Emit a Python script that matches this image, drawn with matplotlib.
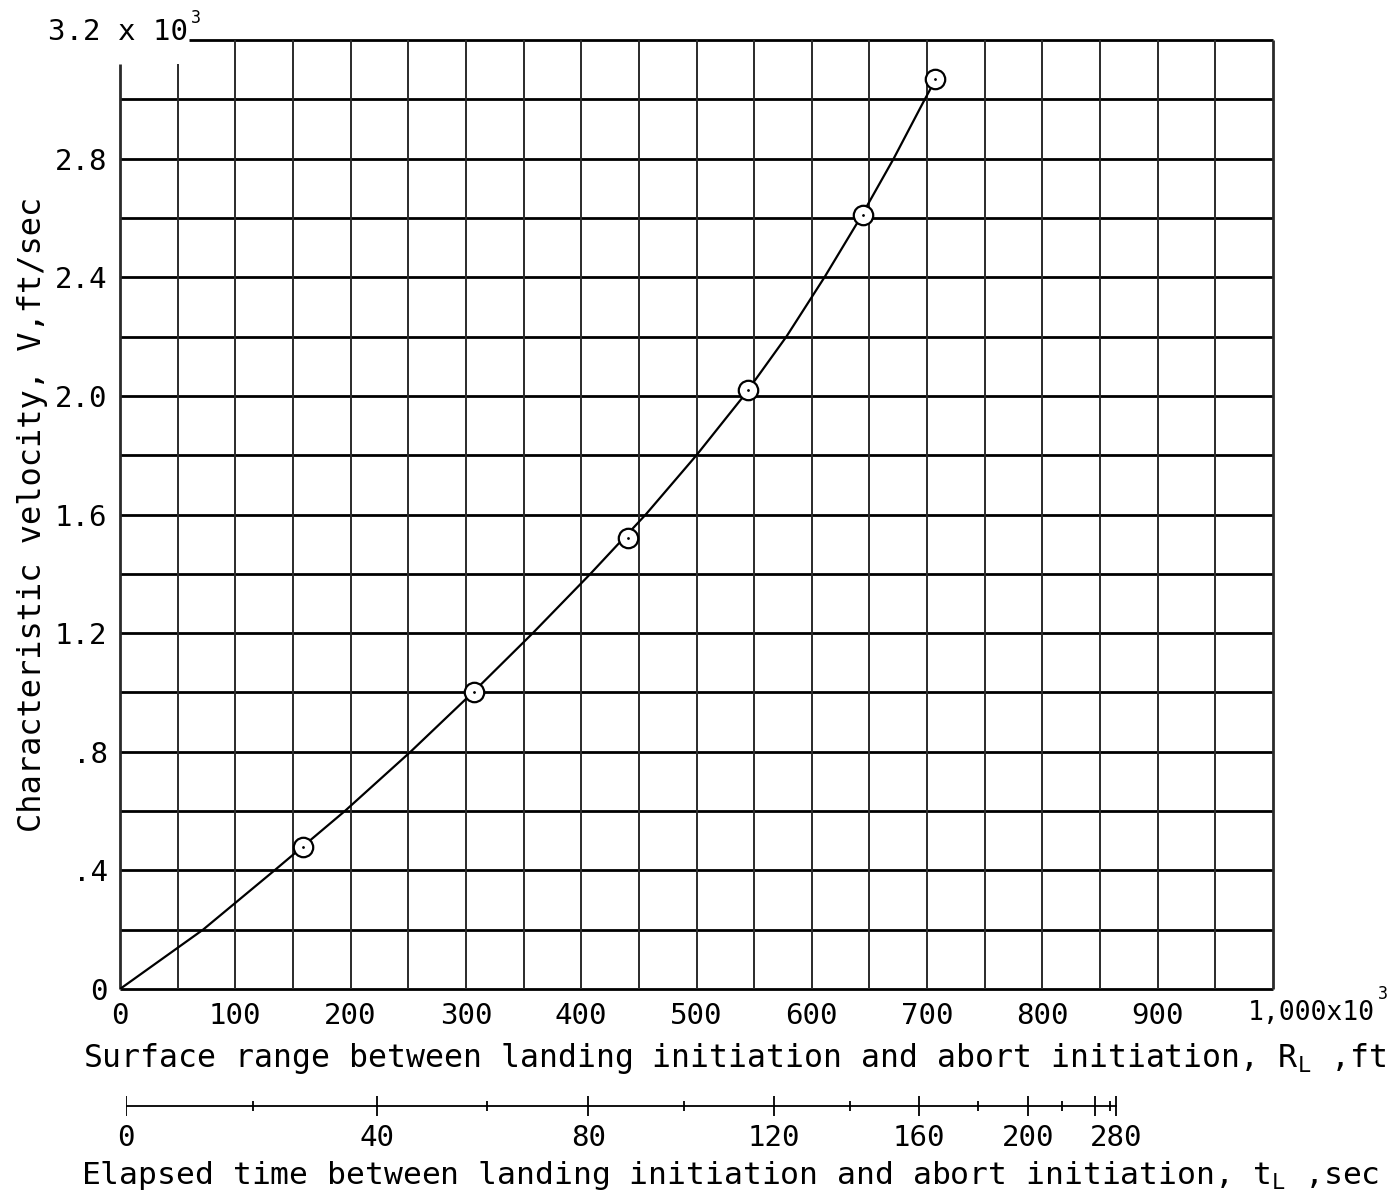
import numpy as np
import matplotlib
matplotlib.use('Agg')
import matplotlib.pyplot as plt

plt.rcParams['font.family'] = ['DejaVu Sans Mono', 'DejaVu Sans']
plt.rcParams['mathtext.default'] = 'regular'

# test points: surface range (x10^3 ft) vs characteristic velocity (x10^3 ft/sec)
range_pts = [159, 307, 441, 545, 644, 707]
vel_pts = [0.48, 1.0, 1.52, 2.02, 2.61, 3.07]

# faired curve through the points
curve_range = [0, 72, 134, 195, 252, 306, 358, 408, 456, 500, 541, 578, 611, 642, 671, 698, 705]
curve_vel = [0, 0.2, 0.4, 0.6, 0.8, 1.0, 1.2, 1.4, 1.6, 1.8, 2.0, 2.2, 2.4, 2.6, 2.8, 3.0, 3.05]

x_ticks = [0, 100, 200, 300, 400, 500, 600, 700, 800, 900]
y_ticks = [0, 0.4, 0.8, 1.2, 1.6, 2.0, 2.4, 2.8]
y_labels = ['0', '.4', '.8', '1.2', '1.6', '2.0', '2.4', '2.8']

# elapsed-time scale: time (sec) and the surface range it lines up with
time_ticks = [0, 20, 40, 60, 80, 100, 120, 140, 160, 180, 200, 220, 240, 260, 280]
time_range = [0, 110, 218, 313, 401, 484, 562, 628, 688, 739, 782, 812, 840, 853, 859]
time_major = [0, 40, 80, 120, 160, 200, 240, 280]
time_labeled = [0, 40, 80, 120, 160, 200, 280]

W, H = 1397, 1198
fig = plt.figure(figsize=(W / 100, H / 100), dpi=100)

ax_l, ax_r, ax_t, ax_b = 120, 1273, 40, 989
ax = fig.add_axes([ax_l / W, 1 - ax_b / H, (ax_r - ax_l) / W, (ax_b - ax_t) / H])
ax.set_xlim(0, 1000)
ax.set_ylim(0, 3.2)
for s in ax.spines.values():
    s.set_visible(False)

# grid drawn by hand so the top-left corner can stay open for the scale label
for yv in np.arange(0, 3.21, 0.2):
    x0 = 60 if yv > 3.19 else 0
    ax.hlines(yv, x0, 1000, color='black', lw=2.0, clip_on=False)
for xv in range(0, 1001, 50):
    top = 3.12 if xv < 60 else 3.2
    lw = 2.0 if xv in (0, 1000) else 1.4
    ax.vlines(xv, 0, top, color='#2a2a2a', lw=lw, clip_on=False)

ax.plot(curve_range, curve_vel, color='black', lw=1.6, zorder=3,
        solid_joinstyle='round')
ax.plot(range_pts, vel_pts, 'o', ms=14, mfc='white', mec='black', mew=1.6, zorder=4)
ax.plot(range_pts, vel_pts, '.', ms=2, color='black', zorder=5)

ax.set_xticks(x_ticks)
ax.set_xticklabels([str(v) for v in x_ticks])
ax.set_yticks(y_ticks)
ax.set_yticklabels(y_labels)
ax.tick_params(length=0, labelsize=21, pad=9)

# scale factors at the ends of both axes
fig.text(48 / W, 1 - 32 / H, '3.2 x 10', fontsize=21, ha='left', va='center')
fig.text(191 / W, 1 - 18 / H, '3', fontsize=12, ha='left', va='center')
fig.text(1248 / W, 1 - 1013 / H, '1,000x10', fontsize=19, ha='left', va='center')
fig.text(1378 / W, 1 - 994 / H, '3', fontsize=12, ha='left', va='center')

fig.text(734 / W, 1 - 1058 / H,
         'Surface range between landing initiation and abort initiation, R$_L$ ,ft',
         fontsize=22.7, ha='center', va='center')
fig.text(33 / W, 1 - 514 / H, 'Characteristic velocity, V,ft/sec',
         fontsize=23, ha='center', va='center', rotation=90)

# elapsed-time scale under the range axis
tax = fig.add_axes([126 / W, 1 - 1126 / H, (ax_r - ax_l) / W, 40 / H])
tax.set_xlim(0, 1000)
tax.set_ylim(-1, 1)
tax.axis('off')
tax.plot([time_range[0], time_range[-1]], [0, 0], color='black', lw=1.3)
for t, r in zip(time_ticks, time_range):
    h = 0.5 if t in time_major else 0.27
    tax.vlines(r, -h, h, color='black', lw=1.3)
    if t in time_labeled:
        tax.text(r, -1.6, str(t), fontsize=21, ha='center', va='center', clip_on=False)

fig.text(730 / W, 1 - 1175 / H,
         'Elapsed time between landing initiation and abort initiation, t$_L$ ,sec',
         fontsize=22.6, ha='center', va='center')

fig.savefig('out.png', dpi=100, facecolor='white')
